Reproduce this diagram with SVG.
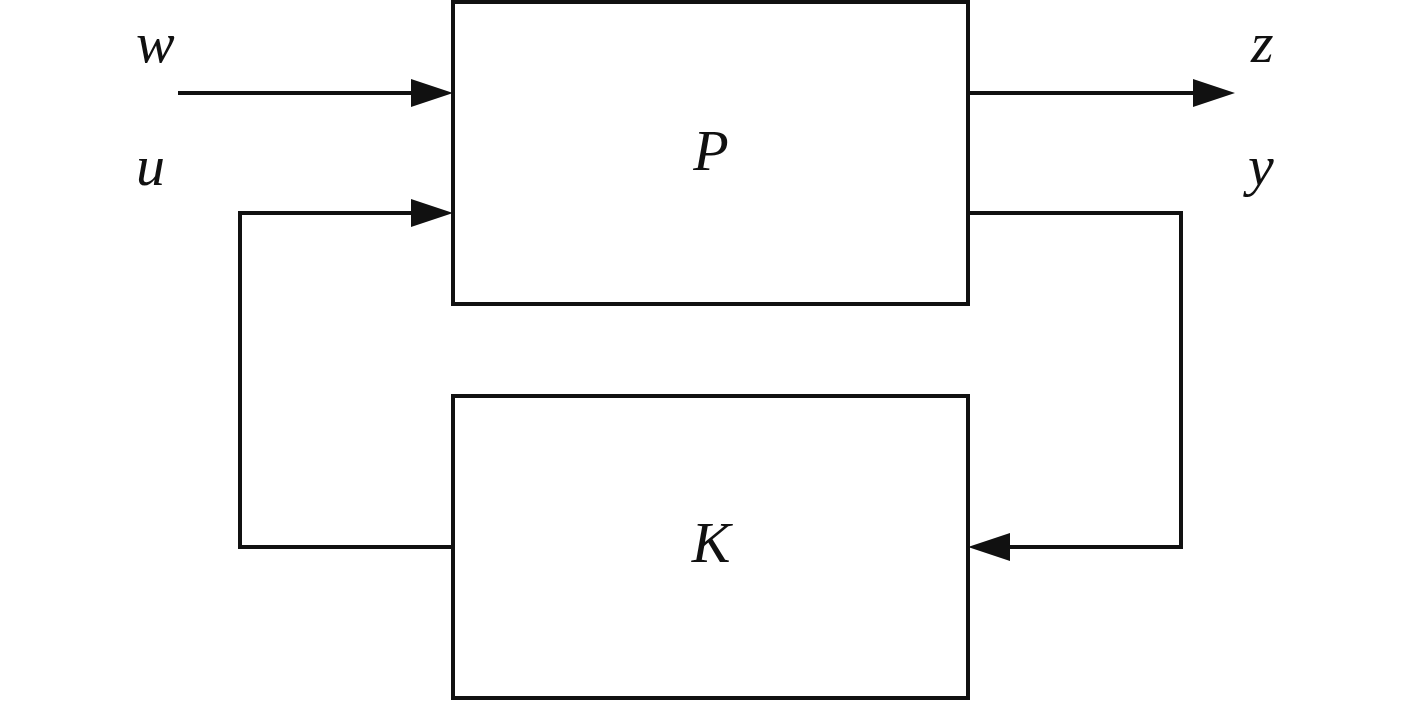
<svg xmlns="http://www.w3.org/2000/svg" width="1417" height="702" viewBox="0 0 1417 702">
<style>
.box{fill:none;stroke:#111;stroke-width:4}
.ln{fill:none;stroke:#111;stroke-width:4;stroke-linecap:butt}
.lb{font-family:"Liberation Serif",serif;font-style:italic;font-size:58px;fill:#111}
</style>
<defs>
<marker id="ah" markerUnits="userSpaceOnUse" markerWidth="42" markerHeight="28" refX="1" refY="14" orient="auto">
<path d="M0,0 L42,14 L0,28 Z" fill="#111"/>
</marker>
</defs>
<rect width="1417" height="702" fill="#fff"/>
<g id="P"><rect class="box" x="453" y="2" width="515" height="302"/><text class="lb" x="711" y="170" text-anchor="middle">P</text></g>
<g id="K"><rect class="box" x="453" y="396" width="515" height="302"/><text class="lb" x="711" y="562" text-anchor="middle">K</text></g>
<g id="labels">
<text class="lb" x="136" y="62">w</text>
<text class="lb" x="136" y="185">u</text>
<text class="lb" x="1251" y="62">z</text>
<text class="lb" x="1248" y="185">y</text>
</g>
<g id="connectors">
<path class="ln" d="M178,93 L412,93" marker-end="url(#ah)"/>
<path class="ln" d="M453,547 L240,547 L240,213 L412,213" marker-end="url(#ah)"/>
<path class="ln" d="M968,93 L1194,93" marker-end="url(#ah)"/>
<path class="ln" d="M968,213 L1181,213 L1181,547 L1009,547" marker-end="url(#ah)"/>
</g>
</svg>
